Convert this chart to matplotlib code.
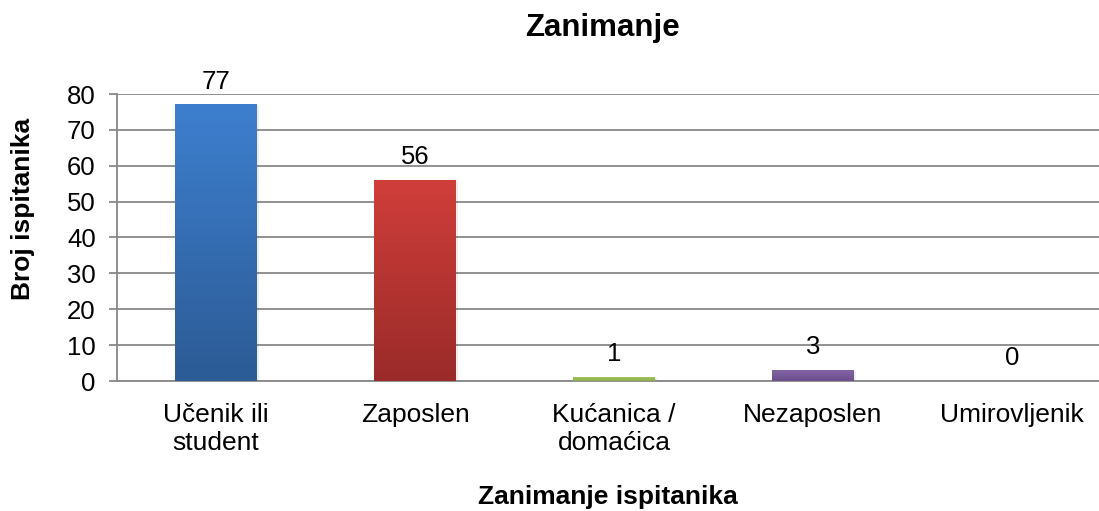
import matplotlib
matplotlib.use("Agg")
import matplotlib.pyplot as plt
import numpy as np
from matplotlib.colors import LinearSegmentedColormap

plt.rcParams['font.family'] = ['Liberation Sans', 'DejaVu Sans']

categories = ["Učenik ili\nstudent", "Zaposlen", "Kućanica /\ndomaćica", "Nezaposlen", "Umirovljenik"]
values = [77, 56, 1, 3, 0]
top_colors = ["#3D7FCF", "#D03E3A", "#A2C35E", "#8264A6"]
bottom_colors = ["#2C5B95", "#9A2B29", "#8CAD4C", "#6C4E8E"]
top_colors.append("#1F4E79")
bottom_colors.append("#1F4E79")
yticks = [0, 10, 20, 30, 40, 50, 60, 70, 80]

W, H = 1099, 511
fig = plt.figure(figsize=(W / 100, H / 100), dpi=100)
ax = fig.add_axes([116.5 / W, (511 - 381) / H, 5 * 199 / W, (381 - 94) / H])

x = np.arange(len(categories))
bars = ax.bar(x, values, width=0.41, facecolor="none", edgecolor="none", zorder=3)

grad = np.linspace(0, 1, 256).reshape(-1, 1)
for b, tc, bc in zip(bars, top_colors, bottom_colors):
    h = b.get_height()
    if h <= 0:
        continue
    bx, bw = b.get_x(), b.get_width()
    # subtle shadow
    ax.bar(bx + bw / 2 + 0.012, h, width=bw, bottom=-0.25, color="#000000", alpha=0.07,
           zorder=2, linewidth=0)
    cmap = LinearSegmentedColormap.from_list("g", [bc, tc])
    ax.imshow(grad, extent=[bx, bx + bw, 0, h], origin="lower", cmap=cmap,
              aspect="auto", zorder=3, interpolation="bilinear")

for b, v in zip(bars, values):
    ax.annotate(str(v), (b.get_x() + b.get_width() / 2, v), xytext=(0, 8),
                textcoords="offset points", ha="center", va="bottom", fontsize=18.5,
                color="#000000", zorder=5)

ax.set_xlim(-0.5, len(categories) - 0.5)
ax.set_ylim(0, 80)
ax.set_yticks(yticks)
ax.set_yticklabels([str(t) for t in yticks], fontsize=18.5)
ax.set_xticks(x)
ax.set_xticklabels(categories, fontsize=19, linespacing=1.2)
ax.tick_params(axis="x", length=0, pad=16)
ax.tick_params(axis="y", length=6, width=1.3, color="#888888", pad=9, direction="out")

ax.yaxis.grid(True, color="#888888", linewidth=1.3, zorder=1)
ax.set_axisbelow(True)
for s in ["top", "right"]:
    ax.spines[s].set_visible(False)
for s in ["left", "bottom"]:
    ax.spines[s].set_color("#888888")
    ax.spines[s].set_linewidth(1.3)

fig.text(602 / W, 1 - 28 / H, "Zanimanje", ha="center", va="center", fontsize=22.5,
         fontweight="bold")
fig.text(608 / W, 1 - 497 / H, "Zanimanje ispitanika", ha="center", va="center",
         fontsize=19, fontweight="bold")
fig.text(23 / W, 1 - 209 / H, "Broj ispitanika", ha="center", va="center",
         fontsize=19, fontweight="bold", rotation=90)

fig.savefig("out.png", dpi=100, facecolor="white")
